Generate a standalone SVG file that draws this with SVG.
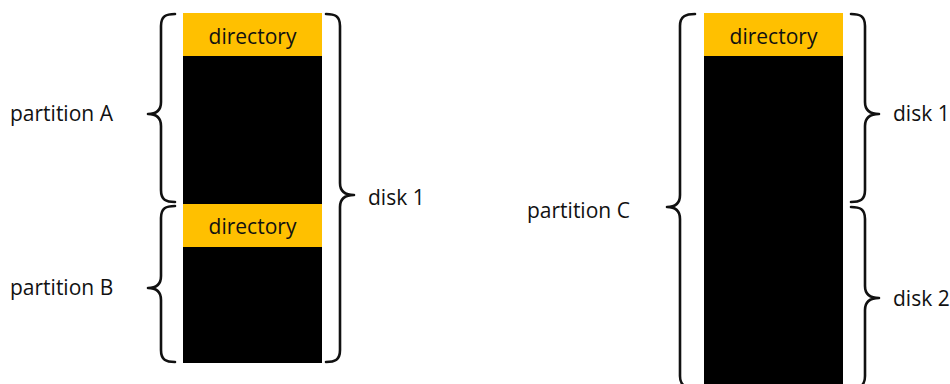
<svg xmlns="http://www.w3.org/2000/svg" width="950" height="384" viewBox="0 0 950 384">
  <style>
    .disk { fill: #000000; }
    .dir { fill: #FFC000; }
    .brace { fill: none; stroke: #111111; stroke-width: 2.6; stroke-linecap: round; stroke-linejoin: round; }
    .lbl { font-family: "Open Sans", "Lato", "Liberation Sans", sans-serif; font-size: 21px; fill: #111111; }
    .dirlbl { font-family: "Open Sans", "Lato", "Liberation Sans", sans-serif; font-size: 21px; fill: #111111; text-anchor: middle; }
  </style>

  <!-- Left layout: one disk split into two partitions -->
  <g id="disk-column-left">
    <rect class="disk" x="183" y="13" width="139" height="350"/>
  </g>
  <g id="directory-a">
    <rect class="dir" x="183" y="13" width="139" height="43"/>
    <text class="dirlbl" x="252.5" y="44">directory</text>
  </g>
  <g id="directory-b">
    <rect class="dir" x="183" y="204" width="139" height="43"/>
    <text class="dirlbl" x="252.5" y="234">directory</text>
  </g>

  <!-- Right layout: one partition spanning two disks -->
  <g id="disk-column-right">
    <rect class="disk" x="704" y="13" width="139" height="380"/>
  </g>
  <g id="directory-c">
    <rect class="dir" x="704" y="13" width="139" height="43"/>
    <text class="dirlbl" x="773.5" y="44">directory</text>
  </g>

  <!-- Braces -->
  <g id="connectors">
    <!-- partition A (points left) -->
    <path class="brace" d="M175,14 C166,14 161,16 161,26 L161,102 C161,110 157,114 148,114 C157,114 161,118 161,126 L161,190 C161,200 166,202 175,202"/>
    <!-- partition B (points left) -->
    <path class="brace" d="M175,206 C166,206 161,208 161,218 L161,276 C161,284 157,288 148,288 C157,288 161,292 161,300 L161,350 C161,360 166,362 175,362"/>
    <!-- disk 1, left layout (points right) -->
    <path class="brace" d="M326,14 C335,14 340,16 340,26 L340,183 C340,191 344,195 354,195 C344,195 340,199 340,207 L340,350 C340,360 335,362 326,362"/>
    <!-- partition C (points left) -->
    <path class="brace" d="M695,14 C686,14 680,16 680,26 L680,195 C680,203 676,207 667,207 C676,207 680,211 680,219 L680,376 C680,386 686,388 695,388"/>
    <!-- disk 1, right layout (points right) -->
    <path class="brace" d="M851,14 C860,14 865,16 865,26 L865,102 C865,110 869,114 879,114 C869,114 865,118 865,126 L865,190 C865,200 860,202 851,202"/>
    <!-- disk 2, right layout (points right) -->
    <path class="brace" d="M851,207 C860,207 865,209 865,219 L865,286 C865,294 869,298 879,298 C869,298 865,302 865,310 L865,376 C865,386 860,388 851,388"/>
  </g>

  <!-- Labels -->
  <g id="labels">
    <text class="lbl" x="10" y="121">partition A</text>
    <text class="lbl" x="10" y="295">partition B</text>
    <text class="lbl" x="368" y="205">disk 1</text>
    <text class="lbl" x="527" y="218">partition C</text>
    <text class="lbl" x="893" y="121">disk 1</text>
    <text class="lbl" x="893" y="306">disk 2</text>
  </g>
</svg>
